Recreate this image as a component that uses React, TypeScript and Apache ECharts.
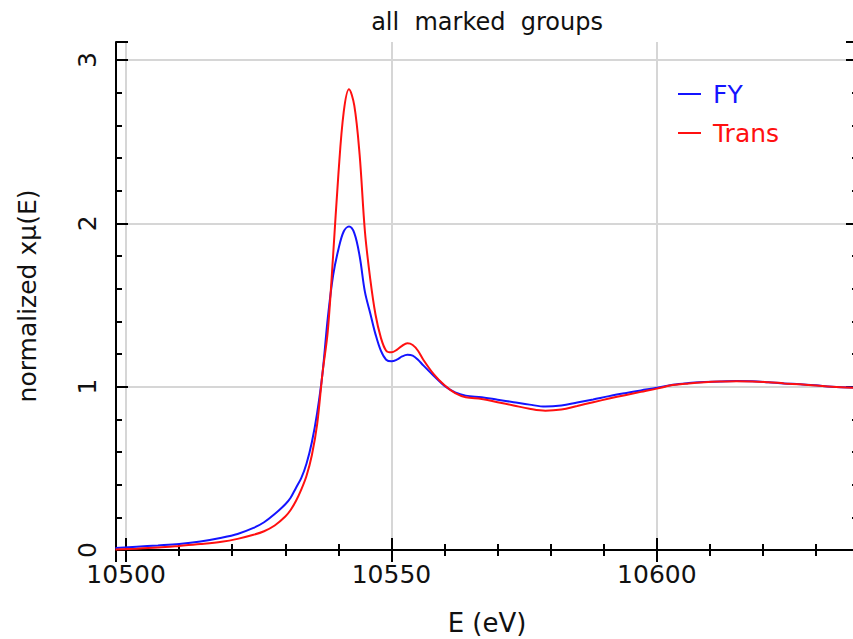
import React, { useEffect, useRef } from "react";
import * as echarts from "echarts";

const energies = [
  10498, 10502, 10506, 10510, 10514, 10518, 10521, 10524, 10526, 10528, 10530, 10531,
  10532, 10533, 10534, 10535, 10536, 10537, 10538, 10539, 10540, 10541, 10542, 10543,
  10544, 10545, 10546, 10547, 10548, 10549, 10550, 10551, 10552, 10553, 10554, 10555,
  10556, 10558, 10560, 10562, 10564, 10567, 10570, 10573, 10576, 10579, 10582, 10585,
  10588, 10591, 10594, 10597, 10600, 10603, 10606, 10609, 10612, 10615, 10618, 10621,
  10624, 10627, 10630, 10633, 10638,
];

const fyValues = [
  0.012, 0.02, 0.028, 0.037, 0.052, 0.075, 0.098, 0.135, 0.17, 0.22, 0.28, 0.32,
  0.38, 0.44, 0.53, 0.66, 0.84, 1.08, 1.42, 1.68, 1.84, 1.95, 1.98, 1.94,
  1.8, 1.58, 1.45, 1.32, 1.22, 1.165, 1.155, 1.165, 1.185, 1.195, 1.19, 1.165,
  1.13, 1.065, 1.005, 0.965, 0.945, 0.935, 0.92, 0.905, 0.89, 0.878, 0.885, 0.903,
  0.922, 0.942, 0.96, 0.977, 0.993, 1.012, 1.022, 1.028, 1.032, 1.034, 1.033, 1.027,
  1.02, 1.015, 1.008, 1.0, 0.994,
];

const transValues = [
  0.003, 0.008, 0.015, 0.025, 0.036, 0.05, 0.068, 0.093, 0.115, 0.15, 0.205, 0.245,
  0.3, 0.37, 0.455, 0.58, 0.77, 1.08, 1.34, 1.8, 2.3, 2.68, 2.82, 2.72,
  2.42, 1.95, 1.66, 1.44, 1.3, 1.22, 1.21, 1.225, 1.25, 1.265, 1.255, 1.22,
  1.165, 1.075, 1.008, 0.96, 0.935, 0.925, 0.905, 0.885, 0.865, 0.853, 0.86, 0.882,
  0.905, 0.927, 0.948, 0.968, 0.988, 1.01, 1.02, 1.027, 1.031, 1.033, 1.032, 1.027,
  1.02, 1.014, 1.007, 0.999, 0.992,
];

const yTickValues = [0, 1, 2, 3];

const seriesNames = ["FY", "Trans"];
const seriesColors = ["#1414ff", "#ff1010"];

const X_MIN = 10498.1;
const X_MAX = 10637.9;
const Y_MIN = 0;
const Y_MAX = 3.11;

const FONT = "DejaVu Sans";

export default function App() {
  const ref = useRef<HTMLDivElement>(null);

  useEffect(() => {
    if (!ref.current) return;
    const chart = echarts.init(ref.current, null, { renderer: "svg" });

    const lineAxis = { show: true, lineStyle: { color: "#000", width: 2 } };
    const noLine = { show: false };
    const tick = (len: number) => ({
      show: true,
      inside: true,
      length: len,
      lineStyle: { color: "#000", width: 2 },
    });
    const noLabel = { show: false };
    const noSplit = { show: false };
    const splitLine = {
      show: true,
      showMinLine: false,
      showMaxLine: false,
      lineStyle: { color: "#d6d6d6", width: 2 },
    };

    const xBase = { type: "value", min: X_MIN, max: X_MAX, gridIndex: 0 };
    const yBase = { type: "value", min: Y_MIN, max: Y_MAX, gridIndex: 0 };

    const option: any = {
      animation: false,
      backgroundColor: "#ffffff",
      title: {
        text: "all  marked  groups",
        left: 482,
        top: 5,
        textAlign: "center",
        textStyle: { fontFamily: FONT, fontSize: 24, fontWeight: "normal", color: "#111" },
      },
      legend: {
        orient: "vertical",
        left: 673,
        top: 76,
        itemWidth: 23,
        itemHeight: 2,
        itemGap: 13,
        icon: "rect",
        data: seriesNames.map((n, i) => ({
          name: n,
          textStyle: { color: seriesColors[i] },
        })),
        textStyle: {
          fontFamily: FONT,
          fontSize: 25,
          lineHeight: 26,
          padding: [0, 0, 0, 7],
        },
      },
      grid: {
        left: 116,
        top: 42,
        width: 742,
        height: 508,
        outerBoundsMode: "none",
        containLabel: false,
      },
      xAxis: [
        {
          ...xBase,
          position: "bottom",
          minInterval: 50,
          maxInterval: 50,
          splitNumber: 3,
          axisLine: lineAxis,
          axisTick: tick(12),
          axisLabel: {
            show: true,
            showMinLabel: false,
            showMaxLabel: false,
            margin: 12,
            fontFamily: FONT,
            fontSize: 25,
            color: "#111",
            formatter: (v: number) => String(Math.round(v)),
          },
          splitLine,
          name: "E (eV)",
          nameLocation: "middle",
          nameGap: 60,
          nameTextStyle: { fontFamily: FONT, fontSize: 26, color: "#111" },
        },
        {
          ...xBase,
          position: "bottom",
          minInterval: 10,
          maxInterval: 10,
          splitNumber: 14,
          axisLine: noLine,
          axisTick: tick(6),
          axisLabel: noLabel,
          splitLine: noSplit,
        },
        {
          ...xBase,
          position: "top",
          minInterval: 50,
          maxInterval: 50,
          splitNumber: 3,
          axisLine: lineAxis,
          axisTick: tick(12),
          axisLabel: noLabel,
          splitLine: noSplit,
        },
        {
          ...xBase,
          position: "top",
          minInterval: 10,
          maxInterval: 10,
          splitNumber: 14,
          axisLine: noLine,
          axisTick: tick(6),
          axisLabel: noLabel,
          splitLine: noSplit,
        },
      ],
      yAxis: [
        {
          ...yBase,
          position: "left",
          interval: 1,
          axisLine: lineAxis,
          axisTick: tick(12),
          axisLabel: noLabel,
          splitLine,
          name: "normalized xμ(E)",
          nameLocation: "middle",
          nameGap: 76,
          nameTextStyle: { fontFamily: FONT, fontSize: 25, color: "#111" },
        },
        {
          ...yBase,
          position: "left",
          interval: 0.2,
          axisLine: noLine,
          axisTick: tick(6),
          axisLabel: noLabel,
          splitLine: noSplit,
        },
        {
          ...yBase,
          position: "right",
          interval: 1,
          axisLine: lineAxis,
          axisTick: tick(12),
          axisLabel: noLabel,
          splitLine: noSplit,
        },
        {
          ...yBase,
          position: "right",
          interval: 0.2,
          axisLine: noLine,
          axisTick: tick(6),
          axisLabel: noLabel,
          splitLine: noSplit,
        },
      ],
      series: [fyValues, transValues].map((vals, i) => ({
        name: seriesNames[i],
        type: "line",
        xAxisIndex: 0,
        yAxisIndex: 0,
        data: energies.map((e, k) => [e, vals[k]]),
        showSymbol: false,
        symbol: "none",
        smooth: 0.35,
        clip: true,
        color: seriesColors[i],
        lineStyle: { color: seriesColors[i], width: 2 },
        emphasis: { disabled: true },
      })),
    };

    chart.setOption(option);

    // Rotated y tick labels, placed via the chart's own scale
    const labelGraphics = yTickValues.map((v) => {
      const p = chart.convertToPixel({ xAxisIndex: 0, yAxisIndex: 0 }, [X_MIN, v]);
      return {
        type: "text",
        x: p[0] - 29,
        y: p[1],
        rotation: Math.PI / 2,
        style: {
          text: String(v),
          fontFamily: FONT,
          fontSize: 25,
          fill: "#111",
          align: "center",
          verticalAlign: "middle",
        },
      };
    });
    chart.setOption({ graphic: labelGraphics });

    return () => chart.dispose();
  }, []);

  return (
    <div
      ref={ref}
      style={{ position: "fixed", left: 0, top: 0, width: 853, height: 639, background: "#fff" }}
    />
  );
}
